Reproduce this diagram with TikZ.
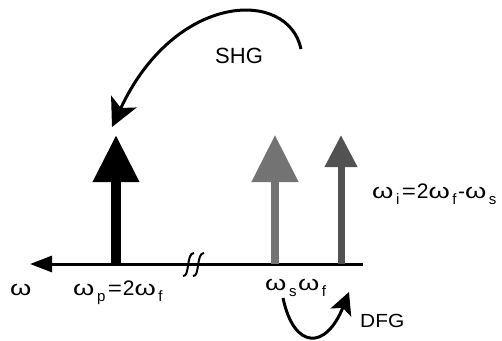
\documentclass[tikz,border=0pt]{standalone}
\usepackage{fontspec}
\setmainfont{Liberation Sans}
\usetikzlibrary{arrows.meta}
\newcommand{\om}{\scalebox{1.3}[1]{ω}}
\newcommand{\lowsub}[1]{\kern2.5pt\raisebox{-0.33em}{\fontsize{15}{15}\selectfont #1}\kern1.5pt}
\newcommand{\eqs}{\kern1pt\scalebox{1.15}[1]{=}\kern1pt}
\begin{document}
\begin{tikzpicture}[x=1pt,y=-1pt,
  lbl/.style={inner sep=0pt,anchor=base west,font=\fontsize{21}{23}\selectfont},
  axisline/.style={line width=3pt,-{Triangle[length=22pt,width=16pt]}},
  curvarrow/.style={line width=3pt,-{Stealth[length=28pt,width=28pt,inset=7pt]}}]
\useasboundingbox (0,0) rectangle (502,340);
% axis
\coordinate (axR) at (363,264);
\coordinate (axL) at (30,264);
\draw[axisline] (axR) -- (axL);
% break mark
\foreach \bx in {189,199}{
  \draw[line width=2pt] (\bx-6,276) .. controls (\bx+1,277) and (\bx-3,253) .. (\bx+5,253);
}
% vertical arrows
\coordinate (pB) at (116,264); \coordinate (pT) at (116,135);
\coordinate (sB) at (275,264); \coordinate (sT) at (275,135);
\coordinate (fB) at (341,264); \coordinate (fT) at (341,135);
\draw[line width=10pt,black,-{Triangle[length=47pt,width=44pt]}] (pB) -- (pT);
\draw[line width=8pt,black!55,-{Triangle[length=47pt,width=45pt]}] (sB) -- (sT);
\draw[line width=7pt,black!68,-{Triangle[length=32pt,width=31pt]}] (fB) -- (fT);
% labels
\node[lbl] (lw) at (10,295) {\om};
\node[lbl] (lp) at (73,295) {\om\lowsub{p}\eqs 2\om\lowsub{f}};
\node[lbl] (lsf) at (265,290) {\om\lowsub{s}\om\lowsub{f}};
\node[lbl] (li) at (372,198) {\om\lowsub{i}\eqs 2\om\lowsub{f}-\om\lowsub{s}};
\node[lbl,font=\fontsize{22}{24}\selectfont] (shg) at (215,63) {SHG};
\node[lbl,font=\fontsize{19}{21}\selectfont] (dfg) at (360,327) {\scalebox{1.1}[1]{DFG}};
% SHG arrow
\coordinate (shgS) at (301,49);
\coordinate (shgE) at (112,127);
\draw[curvarrow] (shgS) .. controls (288,-12) and (175,-8) .. (shgE);
% DFG arrow
\coordinate (dfgS) at (283,298);
\coordinate (dfgE) at (349,292);
\draw[line width=3pt,-{Stealth[length=22pt,width=22pt,inset=5pt]}] (dfgS) .. controls (294,350) and (326,350) .. (dfgE);
\end{tikzpicture}
\end{document}
